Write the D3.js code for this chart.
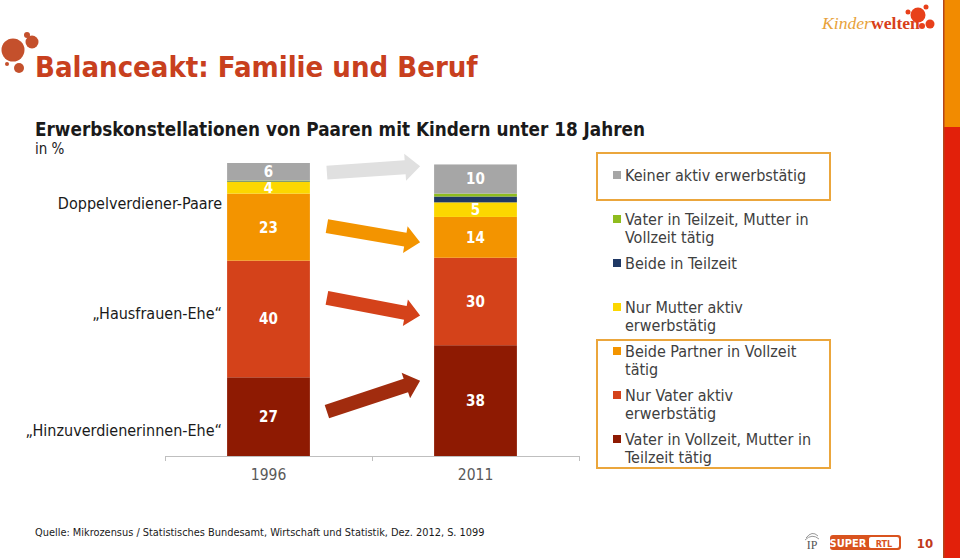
<!DOCTYPE html>
<html><head><meta charset="utf-8">
<script src="https://cdn.jsdelivr.net/npm/d3@7"></script>
<style>body{margin:0;background:#fff}svg{display:block}</style>
</head><body>
<script>
// ---- data ----
const years = ["1996", "2011"];
const seriesNames = [
  "Vater in Vollzeit, Mutter in Teilzeit tätig",
  "Nur Vater aktiv erwerbstätig",
  "Beide Partner in Vollzeit tätig",
  "Nur Mutter aktiv erwerbstätig",
  "Beide in Teilzeit",
  "Vater in Teilzeit, Mutter in Vollzeit tätig",
  "Keiner aktiv erwerbstätig"
];
const values1996 = [27, 40, 23, 4, 0.2, 0.3, 6];
const values2011 = [38, 30, 14, 5, 2, 1, 10];
const seriesColors = ["#8e1a02", "#d4421a", "#f39400", "#fcd700", "#1f3864", "#8fbc1e", "#a6a6a6"];
const legendLines = [
  ["Vater in Vollzeit, Mutter in", "Teilzeit tätig"],
  ["Nur Vater aktiv", "erwerbstätig"],
  ["Beide Partner in Vollzeit", "tätig"],
  ["Nur Mutter aktiv", "erwerbstätig"],
  ["Beide in Teilzeit"],
  ["Vater in Teilzeit, Mutter in", "Vollzeit tätig"],
  ["Keiner aktiv erwerbstätig"]
];
const groupLabels = ["Doppelverdiener-Paare", "\u201EHausfrauen-Ehe\u201C", "\u201EHinzuverdienerinnen-Ehe\u201C"];
// trend arrows: series index, level (% from bottom at midpoint), rise (%)
const arrowSeries = [6, 2, 1, 0];
const arrowLevel = [98.3, 76.1, 51.2, 20.5];
const arrowRise = [2.2, -5.5, -6.1, 10.6];
const arrowColors = ["#e0e0e0", "#f39400", "#d4421a", "#a12c0e"];

const W = 960, H = 558;
const svg = d3.select("body").append("svg").attr("width", W).attr("height", H);
const FONT = "'DejaVu Sans Condensed','DejaVu Sans',sans-serif";

function fit(sel, w) {
  const n = sel.node();
  let fs = parseFloat(sel.attr("font-size"));
  const len = n.getComputedTextLength();
  if (len > 0) sel.attr("font-size", (fs * w / len).toFixed(2));
  return sel;
}

// ---- right strip ----
svg.append("rect").attr("x", 944).attr("y", 0).attr("width", 16).attr("height", 127).attr("fill", "#f28b00");
svg.append("rect").attr("x", 944).attr("y", 127).attr("width", 16).attr("height", H - 127).attr("fill", "#e2200a");
svg.append("rect").attr("x", 943).attr("y", 0).attr("width", 1.5).attr("height", H).attr("fill", "#b4461a");

// ---- top-left logo ----
const lg = svg.append("g").attr("fill", "#c4502c");
[[13,50,11.5],[32,42,6.5],[27,35,3],[19,68,5],[7,64,2]].forEach(c =>
  lg.append("circle").attr("cx", c[0]).attr("cy", c[1]).attr("r", c[2]));

// ---- title ----
fit(svg.append("text").attr("x", 35).attr("y", 77).attr("font-family", FONT).attr("font-weight", "bold")
  .attr("font-size", 26).attr("fill", "#c8401e").text("Balanceakt: Familie und Beruf"), 443);
fit(svg.append("text").attr("x", 35).attr("y", 136).attr("font-family", FONT).attr("font-weight", "bold")
  .attr("font-size", 18).attr("fill", "#1a1a1a").text("Erwerbskonstellationen von Paaren mit Kindern unter 18 Jahren"), 610);
svg.append("text").attr("x", 35).attr("y", 154).attr("font-family", FONT)
  .attr("font-size", 15).attr("fill", "#1a1a1a").text("in %");

// ---- Kinderwelten logo ----
const kw = svg.append("text").attr("x", 822).attr("y", 29).attr("font-family", "'Liberation Serif',serif").attr("font-size", 18);
kw.append("tspan").attr("font-style", "italic").attr("fill", "#e8a23a").text("Kinder");
kw.append("tspan").attr("font-weight", "bold").attr("fill", "#d8401a").text("welten");
fit(kw, 98);
const kg = svg.append("g").attr("fill", "#e8401a");
[[918,15,7.5],[908,12,2.5],[926,7,2.5],[930,24,4.5],[922,26,3]].forEach(c =>
  kg.append("circle").attr("cx", c[0]).attr("cy", c[1]).attr("r", c[2]));

// ---- chart ----
const x = d3.scaleBand().domain(years).range([165, 579]).paddingInner(0.6).paddingOuter(0.3);
const totals = [d3.sum(values1996), d3.sum(values2011)];
const y = d3.scaleLinear().domain([0, d3.max(totals)]).range([456, 163]);

const rows = years.map((yr, i) => {
  const vals = i === 0 ? values1996 : values2011;
  const o = { year: yr };
  seriesNames.forEach((s, j) => o[s] = vals[j]);
  return o;
});
const stacked = d3.stack().keys(seriesNames)(rows);

const g = svg.append("g");
stacked.forEach((layer, j) => {
  g.selectAll(null).data(layer).join("rect")
    .attr("x", d => x(d.data.year)).attr("width", x.bandwidth())
    .attr("y", d => y(d[1])).attr("height", d => y(d[0]) - y(d[1]))
    .attr("fill", seriesColors[j]);
  g.selectAll(null).data(layer.filter(d => d[1] - d[0] >= 3)).join("text")
    .attr("x", d => x(d.data.year) + x.bandwidth() / 2)
    .attr("y", d => (y(d[0]) + y(d[1])) / 2).attr("dy", "0.36em")
    .attr("text-anchor", "middle").attr("font-family", FONT).attr("font-weight", "bold")
    .attr("font-size", 15).attr("fill", "#fff")
    .text(d => d3.format("d")(d[1] - d[0]));
});

// axis
const ax = svg.append("g").attr("transform", "translate(0,456)")
  .call(d3.axisBottom(x).tickSize(0).tickPadding(13));
ax.select(".domain").attr("stroke", "#bfbfbf").attr("d", "M165,0.5H579");
ax.selectAll("text").attr("font-family", FONT).attr("font-size", 15.5).attr("fill", "#595959");
const bounds = [x.range()[0], (x.range()[0] + x.range()[1]) / 2, x.range()[1]];
ax.selectAll("line.bt").data(bounds).join("line").attr("class", "bt")
  .attr("x1", d => d + 0.5).attr("x2", d => d + 0.5).attr("y1", 0).attr("y2", 5).attr("stroke", "#bfbfbf");

// arrows
const ax0 = x("1996") + x.bandwidth() + 17, ax1 = x("2011") - 14;
arrowSeries.forEach((s, i) => {
  const ym = y(arrowLevel[i]);
  const dy = y(0) - y(arrowRise[i]);
  const p0 = [ax0, ym + dy / 2], p1 = [ax1, ym - dy / 2];
  const dx = p1[0] - p0[0], ddy = p1[1] - p0[1], L = Math.hypot(dx, ddy);
  const ux = dx / L, uy = ddy / L, nx = -uy, ny = ux;
  const sh = 7, hh = 13.5, hl = 15;
  const b = [p1[0] - ux * hl, p1[1] - uy * hl];
  const pts = [
    [p0[0] + nx * sh, p0[1] + ny * sh], [b[0] + nx * sh, b[1] + ny * sh], [b[0] + nx * hh, b[1] + ny * hh],
    p1, [b[0] - nx * hh, b[1] - ny * hh], [b[0] - nx * sh, b[1] - ny * sh], [p0[0] - nx * sh, p0[1] - ny * sh]
  ];
  svg.append("path").attr("d", d3.line()(pts) + "Z").attr("fill", arrowColors[i]);
});

// group labels
const glY = [203, 313, 430];
groupLabels.forEach((t, i) => {
  svg.append("text").attr("x", 222).attr("y", glY[i]).attr("dy", "0.35em").attr("text-anchor", "end")
    .attr("font-family", FONT).attr("font-size", 16).attr("fill", "#1a1a1a").text(t);
});

// legend boxes
svg.append("rect").attr("x", 597).attr("y", 153).attr("width", 233).attr("height", 47)
  .attr("fill", "none").attr("stroke", "#eba63c").attr("stroke-width", 2);
svg.append("rect").attr("x", 597).attr("y", 340).attr("width", 233).attr("height", 128)
  .attr("fill", "none").attr("stroke", "#eba63c").attr("stroke-width", 2);

// legend entries (top to bottom = reversed stack order)
const legOrder = d3.range(seriesNames.length).reverse();
legOrder.forEach((j, k) => {
  const by = 181 + k * 44;
  svg.append("rect").attr("x", 613).attr("y", by - 10).attr("width", 8).attr("height", 8).attr("fill", seriesColors[j]);
  const t = svg.append("text").attr("font-family", FONT).attr("font-size", 16).attr("fill", "#404040");
  legendLines[j].forEach((ln, li) => t.append("tspan").attr("x", 625).attr("y", by + li * 18).text(ln));
});

// source
fit(svg.append("text").attr("x", 35).attr("y", 536).attr("font-family", FONT).attr("font-size", 12)
  .attr("fill", "#1a1a1a").text("Quelle: Mikrozensus / Statistisches Bundesamt, Wirtschaft und Statistik, Dez. 2012, S. 1099"), 450);

// bottom-right logos
svg.append("text").attr("x", 812).attr("y", 549).attr("text-anchor", "middle").attr("font-family", "'Liberation Serif',serif")
  .attr("font-size", 12).attr("fill", "#555").text("IP");
svg.append("path").attr("d", "M806,538 Q812,530 818,536 M805,540 Q812,533 819,539").attr("fill", "none").attr("stroke", "#999").attr("stroke-width", 1);
svg.append("rect").attr("x", 830).attr("y", 535).attr("width", 71).attr("height", 15).attr("rx", 3).attr("fill", "#d9531e");
svg.append("text").attr("x", 848).attr("y", 547).attr("text-anchor", "middle").attr("font-family", FONT).attr("font-weight", "bold")
  .attr("font-size", 11).attr("fill", "#fff").text("SUPER");
svg.append("rect").attr("x", 869).attr("y", 537).attr("width", 30).attr("height", 11).attr("rx", 2).attr("fill", "#fff");
svg.append("text").attr("x", 884).attr("y", 546.5).attr("text-anchor", "middle").attr("font-family", FONT).attr("font-weight", "bold")
  .attr("font-size", 9).attr("fill", "#d9531e").text("RTL");
svg.append("text").attr("x", 925).attr("y", 548).attr("text-anchor", "middle").attr("font-family", FONT).attr("font-weight", "bold")
  .attr("font-size", 13).attr("fill", "#c0391b").text("10");
</script>
</body></html>
